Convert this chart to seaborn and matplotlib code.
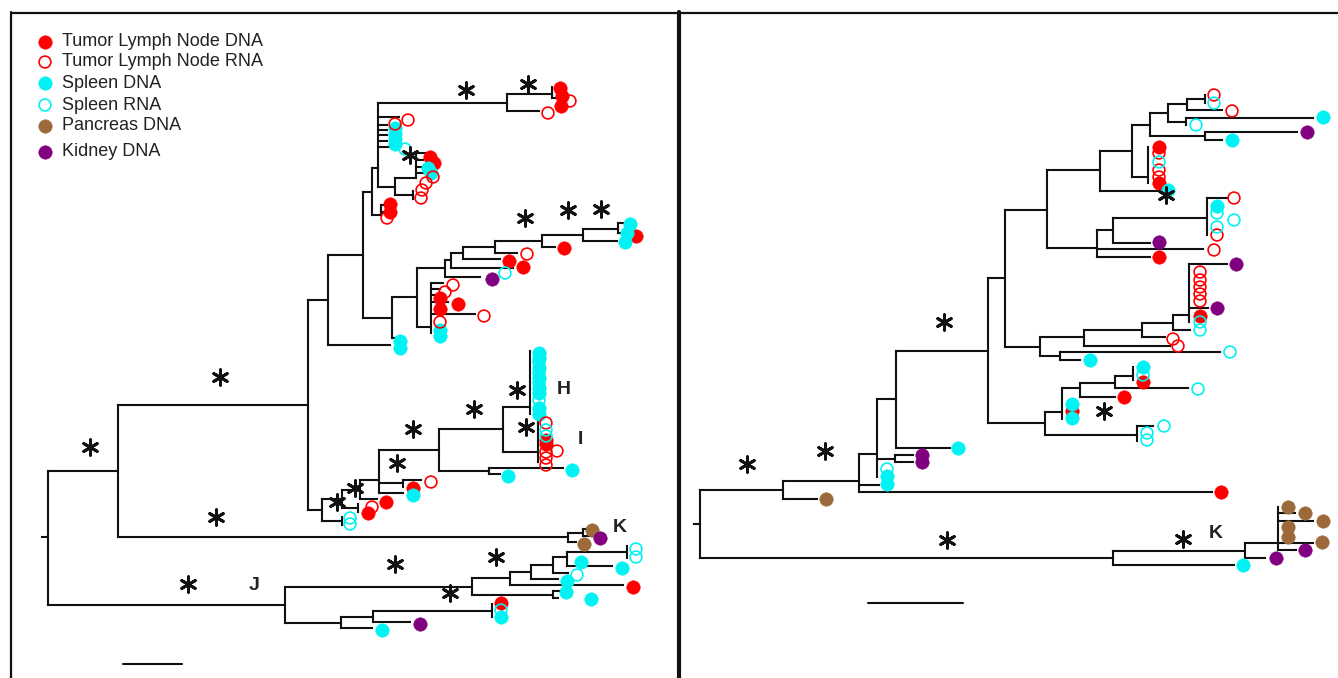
import matplotlib
matplotlib.use("Agg")
import matplotlib.pyplot as plt
import seaborn as sns
import pandas as pd
from matplotlib.collections import LineCollection

# ---------------- data (pixel-space tree layout) ----------------
# (node, parent, x, y)
left_tree = [
    ("root", None, 48, 537), ("A", "root", 118, 471), ("J", "root", 285, 605),
    ("B", "A", 308, 405), ("Kb", "A", 568, 537), ("k1", "Kb", 583, 533),
    ("k1a", "k1", 590, 529), ("k1b", "k1", 590, 536), ("k2", "Kb", 576, 542),
    ("C", "B", 328, 300), ("M", "B", 322, 510), ("D", "C", 363, 255), ("E", "C", 390, 345),
    ("F", "D", 372, 192), ("G", "D", 392, 318), ("F1", "F", 378, 168), ("F2", "F", 381, 215),
    ("f2a", "F2", 386, 205), ("f2b", "F2", 386, 212), ("U", "F1", 507, 103), ("u1", "F1", 399, 117),
    ("c1", "F1", 387, 125), ("c2", "F1", 387, 130), ("c3", "F1", 387, 135), ("c4", "F1", 387, 141),
    ("c5", "F1", 397, 147), ("V", "F1", 395, 187), ("W", "V", 416, 178),
    ("w1", "W", 427, 153), ("w2", "W", 423, 160), ("w3", "W", 423, 167), ("w4", "W", 423, 173),
    ("v1", "V", 413, 195), ("v1a", "v1", 413, 191), ("v1b", "v1", 413, 199),
    ("U1", "U", 552, 94), ("u2", "U", 539, 111), ("u1a", "U1", 552, 87), ("u1b", "U1", 560, 98),
    ("T", "G", 417, 297), ("g1", "G", 396, 338), ("T1", "T", 445, 268), ("Tc", "T", 431, 327),
    ("T2", "T1", 451, 260), ("t1", "T1", 480, 277), ("T3", "T2", 463, 253), ("t2", "T2", 513, 268),
    ("T4", "T3", 495, 247), ("t3", "T3", 500, 259), ("T5", "T4", 542, 241), ("t4", "T4", 517, 253),
    ("T6", "T5", 583, 235), ("t5", "T5", 555, 247), ("T7", "T6", 618, 229), ("t6", "T6", 617, 241),
    ("t7", "T7", 623, 223), ("t8", "T7", 630, 233),
    ("tc1", "Tc", 443, 283), ("tc2", "Tc", 440, 289), ("tc3", "Tc", 442, 295), ("tc4", "Tc", 448, 302),
    ("tc5", "Tc", 475, 314), ("tc6", "Tc", 431, 333),
    ("M1", "M", 342, 499), ("M2", "M", 342, 521), ("m2a", "M2", 342, 517), ("m2b", "M2", 342, 525),
    ("N", "M1", 360, 490), ("m1", "M1", 358, 508), ("m1a", "m1", 358, 504), ("m1b", "m1", 358, 512),
    ("O", "N", 379, 480), ("n1", "N", 377, 499), ("P", "O", 439, 450), ("Q", "O", 403, 483),
    ("o1", "O", 403, 493), ("q1", "Q", 421, 480), ("q2", "Q", 403, 487),
    ("R", "P", 503, 429), ("S", "P", 489, 471), ("H", "R", 530, 407), ("I", "R", 538, 452),
    ("h1", "H", 530, 351), ("h2", "H", 530, 414), ("i1", "I", 538, 420), ("i2", "I", 538, 462),
    ("s1", "S", 563, 468), ("s2", "S", 500, 474),
    ("J1", "J", 472, 587), ("J2", "J", 341, 623), ("J3", "J2", 373, 617), ("j1", "J2", 372, 628),
    ("J4", "J3", 492, 611), ("j2", "J3", 410, 622), ("j4a", "J4", 492, 604), ("j4b", "J4", 492, 617),
    ("J5", "J1", 510, 578), ("J6", "J1", 553, 595), ("j6a", "J6", 561, 591), ("j6b", "J6", 558, 598),
    ("J7", "J5", 531, 572), ("j3", "J5", 623, 585), ("J8", "J7", 553, 565), ("j5", "J7", 558, 579),
    ("J9", "J8", 567, 557), ("j7", "J8", 568, 573), ("J10", "J9", 627, 552), ("j8", "J9", 612, 566),
    ("j10a", "J10", 627, 546), ("j10b", "J10", 627, 558),
]

right_tree = [
    ("root", None, 700, 524), ("Ra", "root", 783, 490), ("Rk", "root", 1113, 558),
    ("ra1", "Ra", 817, 499), ("R1", "Ra", 859, 481), ("R2", "R1", 877, 454),
    ("r1a", "R1", 879, 485), ("r1b", "R1", 1212, 492), ("R3", "R2", 896, 399),
    ("R4", "R2", 895, 459), ("r2a", "R2", 877, 477), ("r4a", "R4", 913, 455), ("r4b", "R4", 913, 462),
    ("R5", "R3", 988, 351), ("r3a", "R3", 950, 448), ("R6", "R5", 1005, 278), ("R7", "R5", 1045, 423),
    ("R8", "R6", 1047, 210), ("R9", "R6", 1040, 347), ("R10", "R8", 1100, 170), ("R15", "R8", 1097, 248),
    ("R11", "R10", 1132, 151), ("r10a", "R10", 1160, 191), ("R12", "R11", 1150, 125),
    ("R11b", "R11", 1148, 177), ("r11a", "R11b", 1148, 147), ("r11b", "R11b", 1148, 183),
    ("R13", "R12", 1168, 113), ("R12b", "R12", 1205, 136), ("r12a", "R12b", 1297, 132),
    ("r12b", "R12b", 1222, 140), ("R14", "R13", 1187, 104), ("R13b", "R13", 1186, 122),
    ("r13a", "R13b", 1313, 118), ("r13b", "R13b", 1186, 125), ("R14a", "R14", 1205, 99),
    ("r14a1", "R14a", 1205, 95), ("r14a2", "R14a", 1205, 103), ("r14b", "R14", 1222, 110),
    ("R16", "R15", 1113, 230), ("r15a", "R15", 1203, 249), ("r15b", "R15", 1150, 257),
    ("R17", "R16", 1207, 218), ("r16a", "R16", 1150, 243), ("r17a", "R17", 1227, 198),
    ("r17b", "R17", 1207, 235), ("R18", "R9", 1084, 337), ("R9b", "R9", 1060, 356),
    ("r9a", "R9b", 1220, 352), ("r9b", "R9b", 1080, 360), ("R19", "R18", 1142, 330),
    ("r18a", "R18", 1170, 346), ("R20", "R19", 1173, 323), ("r19a", "R19", 1165, 337),
    ("R21", "R20", 1189, 315), ("r20a", "R20", 1190, 330), ("r21a", "R21", 1227, 264),
    ("r21b", "R21", 1208, 308), ("r21c", "R21", 1189, 322), ("R22", "R7", 1062, 412),
    ("R7b", "R7", 1137, 435), ("r7a", "R7b", 1153, 426), ("r7b", "R7b", 1137, 441),
    ("R23", "R22", 1080, 388), ("r22a", "R22", 1062, 419), ("R24", "R23", 1115, 383),
    ("r23a", "R23", 1115, 397), ("R25", "R24", 1133, 376), ("r24a", "R24", 1188, 388),
    ("r25a", "R25", 1133, 367), ("r25b", "R25", 1133, 380),
    ("K1", "Rk", 1245, 551), ("rka", "Rk", 1234, 565), ("K2", "K1", 1278, 543),
    ("k1a", "K1", 1265, 558), ("k2a", "K2", 1278, 507), ("k2b", "K2", 1295, 513),
    ("k2c", "K2", 1313, 521), ("k2d", "K2", 1313, 543), ("k2e", "K2", 1296, 550),
]

# sample tips (x, y) by tissue / molecule
tumor_dna = [(560, 88), (562, 96), (561, 106), (430, 157), (434, 163), (390, 204), (390, 212),
             (564, 248), (636, 236), (509, 261), (523, 267), (440, 298), (440, 309), (458, 304),
             (546, 440), (546, 444), (368, 513), (386, 502), (413, 488), (501, 603), (633, 587),
             (1221, 492), (1159, 147), (1159, 183), (1159, 257), (1200, 316), (1072, 411),
             (1143, 382), (1124, 397)]
tumor_rna = [(548, 113), (570, 101), (408, 120), (395, 124), (433, 177), (426, 183), (422, 190),
             (421, 198), (387, 218), (527, 254), (453, 285), (445, 292), (484, 316), (440, 322),
             (372, 507), (431, 482), (546, 423), (546, 452), (546, 458), (546, 465), (557, 451),
             (1214, 95), (1232, 111), (1159, 153), (1159, 170), (1159, 177), (1234, 198),
             (1217, 235), (1214, 250), (1200, 272), (1200, 280), (1200, 287), (1200, 294),
             (1200, 301), (1173, 339), (1178, 346)]
spleen_dna = [(395, 128), (395, 134), (395, 139), (395, 144), (428, 168), (431, 173),
              (400, 341), (400, 348), (440, 330), (440, 336), (630, 224), (627, 233), (625, 242),
              (572, 470), (508, 476), (413, 495), (539, 353), (539, 358), (539, 368), (539, 378),
              (539, 388), (539, 393), (539, 408), (539, 414), (501, 617), (382, 630), (581, 562),
              (567, 581), (566, 592), (591, 599), (622, 568),
              (1323, 117), (1232, 140), (1168, 190), (1217, 206), (1090, 360), (1143, 367),
              (1072, 404), (1072, 418), (958, 448), (887, 476), (887, 484), (1243, 565)]
spleen_rna = [(405, 149), (505, 273), (350, 518), (350, 524), (539, 362), (539, 373), (539, 383),
              (539, 400), (546, 430), (546, 436), (501, 610), (577, 575), (636, 549), (636, 557),
              (1196, 125), (1214, 103), (1159, 162), (1217, 213), (1234, 220), (1217, 227),
              (1200, 322), (1200, 330), (1230, 352), (1143, 375), (1198, 389), (1164, 426),
              (1147, 433), (1147, 440), (887, 469)]
pancreas_dna = [(592, 530), (584, 544), (826, 499), (1288, 507), (1305, 513), (1323, 521),
                (1288, 527), (1288, 537), (1322, 542)]
kidney_dna = [(600, 538), (492, 279), (420, 624), (1307, 132), (1159, 242), (1236, 264),
              (1217, 308), (922, 455), (922, 462), (1276, 558), (1305, 550)]

support_stars = [(90, 447), (220, 377), (216, 517), (188, 584), (395, 564), (496, 557), (450, 593),
                 (466, 90), (528, 84), (410, 155), (525, 218), (568, 210), (601, 209), (337, 502),
                 (355, 488), (397, 463), (413, 429), (474, 409), (517, 390), (526, 427),
                 (747, 464), (825, 451), (944, 322), (1104, 411), (1166, 195), (1183, 539), (947, 540)]

clade_labels = ["H", "I", "J", "K", "K"]
clade_label_xy = [(564, 390), (580, 440), (254, 585), (620, 528), (1216, 533)]

legend_labels = ["Tumor Lymph Node DNA", "Tumor Lymph Node RNA", "Spleen DNA",
                 "Spleen RNA", "Pancreas DNA", "Kidney DNA"]
legend_y = [42, 62, 83, 105, 126, 152]

scale_bars = [(123, 182, 664), (868, 963, 603)]

# ---------------- styling ----------------
RED, CYAN, BROWN, PURPLE = "#FF0000", "#00F2F2", "#9C6A3A", "#800080"
styles = {  # category -> (color, filled)
    "Tumor Lymph Node DNA": (RED, True), "Tumor Lymph Node RNA": (RED, False),
    "Spleen DNA": (CYAN, True), "Spleen RNA": (CYAN, False),
    "Pancreas DNA": (BROWN, True), "Kidney DNA": (PURPLE, True),
}

sns.set_theme(style="white")
plt.rcParams["font.family"] = ["Liberation Sans", "DejaVu Sans"]

fig = plt.figure(figsize=(13.38, 6.78), dpi=100)
ax = fig.add_axes([0, 0, 1, 1])
ax.set_xlim(0, 1338)
ax.set_ylim(678, 0)
ax.axis("off")


def tree_segments(tree):
    pos = {n: (x, y) for n, p, x, y in tree}
    kids = {}
    segs = []
    for n, p, x, y in tree:
        if p is None:
            segs.append([(x - 6, y), (x, y)])
            continue
        kids.setdefault(p, []).append(n)
        px = pos[p][0]
        if x > px:
            segs.append([(px, y), (x, y)])
    for n, ch in kids.items():
        x, y = pos[n]
        ys = [pos[c][1] for c in ch] + [y]
        segs.append([(x, min(ys)), (x, max(ys))])
    return segs


for tree in (left_tree, right_tree):
    lc = LineCollection(tree_segments(tree), colors="#111111", linewidths=1.5,
                        capstyle="projecting", zorder=2)
    ax.add_collection(lc)

# frame
ax.plot([11, 1338], [13, 13], color="#111111", lw=1.6, zorder=1, solid_capstyle="butt")
ax.plot([11, 11], [12.2, 678], color="#111111", lw=1.6, zorder=1)
ax.plot([679, 679], [12.2, 678], color="#111111", lw=3.0, zorder=1)

# scale bars
for x0, x1, y in scale_bars:
    ax.plot([x0, x1], [y, y], color="#111111", lw=1.5)

# tips
tips = pd.DataFrame(
    [(x, y, "Tumor Lymph Node DNA") for x, y in tumor_dna]
    + [(x, y, "Tumor Lymph Node RNA") for x, y in tumor_rna]
    + [(x, y, "Spleen DNA") for x, y in spleen_dna]
    + [(x, y, "Spleen RNA") for x, y in spleen_rna]
    + [(x, y, "Pancreas DNA") for x, y in pancreas_dna]
    + [(x, y, "Kidney DNA") for x, y in kidney_dna],
    columns=["x", "y", "sample"])

draw_order = ["Tumor Lymph Node DNA", "Spleen DNA", "Pancreas DNA", "Kidney DNA",
              "Tumor Lymph Node RNA", "Spleen RNA"]
for cat in draw_order:
    col, filled = styles[cat]
    sub = tips[tips["sample"] == cat]
    if filled:
        sns.scatterplot(data=sub, x="x", y="y", ax=ax, s=95, color=col, edgecolor=col,
                        linewidth=0.3, legend=False, zorder=3)
    else:
        sns.scatterplot(data=sub, x="x", y="y", ax=ax, s=72, color="none", edgecolor=col,
                        linewidth=1.2, legend=False, zorder=4)

# support stars
stars = pd.DataFrame(support_stars, columns=["x", "y"])
sns.scatterplot(data=stars, x="x", y="y", ax=ax, marker=(6, 2, 0), s=125, color="#111111",
                edgecolor="#111111", linewidth=2.1, legend=False, zorder=5)

# clade labels
for lab, (x, y) in zip(clade_labels, clade_label_xy):
    ax.text(x, y, lab, fontsize=14, fontweight="bold", color="#222222",
            ha="center", va="center", zorder=6)

# legend
for lab, y in zip(legend_labels, legend_y):
    col, filled = styles[lab]
    leg = pd.DataFrame({"x": [45], "y": [y]})
    if filled:
        sns.scatterplot(data=leg, x="x", y="y", ax=ax, s=95, color=col, edgecolor=col,
                        linewidth=0.3, legend=False, zorder=3)
    else:
        sns.scatterplot(data=leg, x="x", y="y", ax=ax, s=72, color="none", edgecolor=col,
                        linewidth=1.2, legend=False, zorder=3)
    ax.text(62, y, lab, fontsize=13, color="#222222", ha="left", va="center")

ax.set_xlabel("")
ax.set_ylabel("")
fig.savefig("out.png", dpi=100, facecolor="white")
